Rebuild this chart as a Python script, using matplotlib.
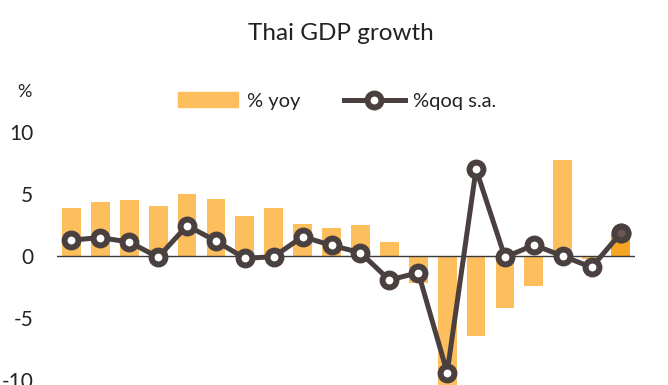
import matplotlib.pyplot as plt
import numpy as np

plt.rcParams['font.family'] = ['Lato', 'DejaVu Sans']

# Quarterly Thai GDP growth
yoy = [3.85, 4.33, 4.49, 4.06, 5.03, 4.62, 3.2, 3.9, 2.6, 2.26,
       2.53, 1.13, -2.2, -12.1, -6.45, -4.2, -2.4, 7.74, -0.2, 1.8]
qoq = [1.29, 1.48, 1.13, -0.1, 2.45, 1.21, -0.19, -0.05, 1.56, 0.86,
       0.27, -1.94, -1.34, -9.4, 7.0, -0.1, 0.89, 0.0, -0.91, 1.83]
yticks = [-10, -5, 0, 5, 10]

bar_color = '#FDBF5E'
last_bar_color = '#F6A623'
line_color = '#4B4040'
text_color = '#222222'

fig = plt.figure(figsize=(6.68, 3.85), dpi=100)
ax = fig.add_axes([57 / 668, 0, 578 / 668, 253 / 385])

x = np.arange(len(yoy))
colors = [bar_color] * (len(yoy) - 1) + [last_bar_color]
bars = ax.bar(x, yoy, width=0.65, color=colors, label='% yoy', zorder=2)
ax.axhline(0, color='#3a3a3a', linewidth=1, zorder=3)

# %qoq line, the last point highlighted with a filled marker
line, = ax.plot(x, qoq, color=line_color, linewidth=3.6, marker='o', markersize=10,
                markerfacecolor='white', markeredgecolor=line_color,
                markeredgewidth=4.3, label='%qoq s.a.', zorder=4)
ax.plot(x[-1:], qoq[-1:], linestyle='none', marker='o', markersize=10,
        markerfacecolor='#6B5555', markeredgecolor=line_color, markeredgewidth=4.3,
        zorder=5)

ax.set_xlim(-0.5, len(yoy) - 0.5)
ax.set_ylim(-10.4, 10)
ax.set_yticks(yticks)
ax.set_yticklabels([str(t) for t in yticks], fontsize=15, color=text_color)
ax.tick_params(axis='y', length=0, pad=17)
ax.set_xticks([])
for s in ax.spines.values():
    s.set_visible(False)
ax.patch.set_alpha(0)

fig.text(341 / 668, 1 - 33 / 385, 'Thai GDP growth', ha='center', va='center',
         fontsize=17.5, color=text_color)
fig.text(24 / 668, 1 - 92 / 385, '%', ha='center', va='center',
         fontsize=13, color=text_color)

bar_handle = plt.Rectangle((0, 0), 1, 1, color=bar_color)
fig.legend([bar_handle, line], ['% yoy', '%qoq s.a.'], loc='center',
           bbox_to_anchor=(337 / 668, 1 - 101 / 385), ncol=2,
           frameon=False, fontsize=14.5, handlelength=3, handletextpad=0.4,
           columnspacing=2.2, labelcolor=text_color)

fig.savefig('out.png', dpi=100)
